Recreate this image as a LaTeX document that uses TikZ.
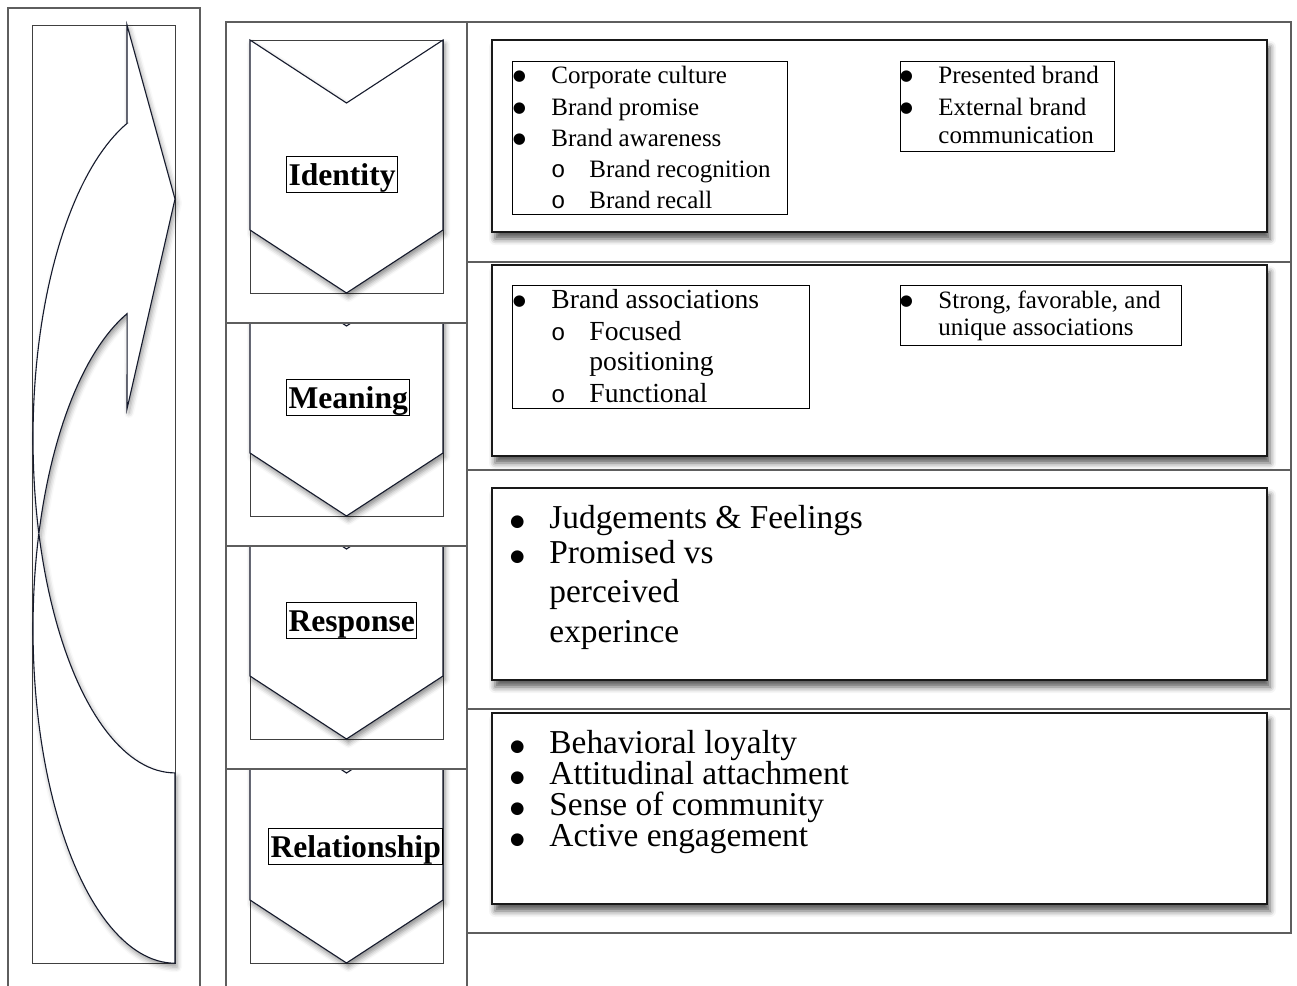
\documentclass[tikz,border=0pt]{standalone}
\usepackage{fontspec}
\setmainfont{Liberation Serif}
\setmonofont{Liberation Mono}
\newfontfamily\markfont{DejaVu Sans}
\usetikzlibrary{shadows.blur}

\definecolor{gridline}{HTML}{5E5E5E}
\definecolor{inkline}{HTML}{151A2C}

% text sizes (1 unit = 0.5pt)
\newcommand\smallitems{\fontsize{12.5}{15}\selectfont}
\newcommand\miditems{\fontsize{13.8}{16}\selectfont}
\newcommand\bigitems{\fontsize{16.7}{20}\selectfont}
\newcommand\tagface{\fontsize{15.8}{19}\selectfont\bfseries}

% list markers: a narrow centred marker box followed by the hanging indent
\newcommand\bulS{\makebox[4pt][c]{\raisebox{1.3pt}{\markfont\fontsize{7.5}{7.5}\selectfont ●}}\hspace{14pt}}
\newcommand\bulL{\makebox[4pt][c]{\raisebox{1pt}{\markfont\fontsize{8.3}{8.3}\selectfont ●}}\hspace{14pt}}
\newcommand\subS{\makebox[4pt][c]{\fontsize{12}{12}\selectfont\ttfamily o}\hspace{13.5pt}}

\begin{document}
\begin{tikzpicture}[x=0.5pt,y=-0.5pt,
  grid/.style={draw=gridline, line width=0.6pt},
  frame/.style={draw=black!75, line width=0.5pt},
  chev/.style={draw=inkline, line width=0.55pt, fill=white,
    blur shadow={shadow xshift=1pt, shadow yshift=-2pt, shadow blur radius=2.5pt, shadow opacity=45}},
  card/.style={draw=black!90, line width=0.8pt, fill=white,
    blur shadow={shadow xshift=1.5pt, shadow yshift=-3.5pt, shadow blur radius=3pt, shadow opacity=65}},
  listbox/.style={draw=black, line width=0.5pt},
  tag/.style={draw=black, line width=0.5pt, fill=white, font=\tagface,
    inner xsep=1pt, inner ysep=0pt, text height=14.5pt, text depth=3.5pt, anchor=base west},
  item/.style={anchor=base west, inner sep=0pt}]

\useasboundingbox (0,0) rectangle (1297,986);
\clip (0,0) rectangle (1297,986);

% ---------- left column: curved arrow ----------
\draw[frame] (32,25) rectangle (175,963);
\draw[draw=inkline, line width=0.55pt, fill=white,
  blur shadow={shadow xshift=1pt, shadow yshift=-2pt, shadow blur radius=2.5pt, shadow opacity=40}]
  (175,199) -- (127,25) -- (127,123.3)
  -- plot[domain=250.3:90, samples=90, variable=\t] ({175+142*cos(\t)},{438.3+334.6*sin(\t)})
  -- (175,963)
  -- plot[domain=90:250.3, samples=90, variable=\t] ({175+142*cos(\t)},{628.6+334.6*sin(\t)})
  -- (127,409) -- cycle;

% ---------- middle column: chevrons ----------
\foreach \b/\ct/\cb in {293/22/323, 516/323/546, 739/546/769, 963/769/986} {
  \begin{scope}
    \clip (226,\ct) rectangle (467,\cb);
    \draw[frame] (250,\b-253) rectangle (443,\b);
    \draw[chev] (250,\b-253) -- (346.5,\b-190) -- (443,\b-253)
      -- (443,\b-63) -- (346.5,\b) -- (250,\b-63) -- cycle;
  \end{scope}
}
\node[tag] (identity) at (286,185) {Identity};
\node[tag] (meaning) at (286,408) {Meaning};
\node[tag] (response) at (286,631) {Response};
\node[tag] (relationship) at (268,857) {Relationship};

% ---------- right column: cards ----------
\draw[card] (492,40) rectangle (1267,232);
\draw[card] (492,265) rectangle (1267,456);
\draw[card] (492,488) rectangle (1267,680);
\draw[card] (492,713) rectangle (1267,904);

% identity lists
\draw[listbox] (512,61) rectangle (787,214);
\draw[listbox] (900,61) rectangle (1114,151);
\begin{scope}[font=\smallitems]
  \foreach \t/\y [count=\i] in {Corporate culture/83, Brand promise/115, Brand awareness/146}
    \node[item] (it\i) at (515,\y) {\bulS\t};
  \foreach \t/\y [count=\i] in {Brand recognition/177, Brand recall/208}
    \node[item] (ist\i) at (554,\y) {\subS\t};
  \node[item] (ibt1) at (902,83) {\bulS Presented brand};
  \node[item] (ibt2) at (902,115) {\bulS External brand};
  \node[item] (ibt3) at (938,143) {communication};
\end{scope}

% meaning lists
\draw[listbox] (512,285) rectangle (809,408);
\draw[listbox] (900,285) rectangle (1181,345);
\begin{scope}[font=\miditems]
  \node[item] (mt1) at (515,308) {\bulS Brand associations};
  \node[item] (mst1) at (554,340) {\subS Focused};
  \node[item] (mst2) at (589,370) {positioning};
  \node[item] (mst3) at (554,402) {\subS Functional};
\end{scope}
\begin{scope}[font=\smallitems]
  \node[item] (mbt1) at (902,308) {\bulS Strong, favorable, and};
  \node[item] (mbt2) at (938,335) {unique associations};
\end{scope}

% response list
\begin{scope}[font=\bigitems]
  \node[item] (rt1) at (513,528) {\bulL Judgements \& Feelings};
  \node[item] (rt2) at (513,563) {\bulL Promised vs};
  \node[item] (rt3) at (549,602) {perceived};
  \node[item] (rt4) at (549,642) {experince};
\end{scope}

% relationship list
\begin{scope}[font=\bigitems]
  \foreach \t/\y [count=\i] in {Behavioral loyalty/753, Attitudinal attachment/784, Sense of community/815, Active engagement/846}
    \node[item] (lt\i) at (513,\y) {\bulL\t};
\end{scope}

% ---------- table rules ----------
\draw[grid] (8,986) -- (8,8) -- (200,8) -- (200,986);
\draw[grid] (226,986) -- (226,22) -- (1291,22) -- (1291,933) -- (467,933);
\draw[grid] (467,22) -- (467,986);
\foreach \y in {323,546,769} \draw[grid] (226,\y) -- (467,\y);
\foreach \y in {262,470,709} \draw[grid] (467,\y) -- (1291,\y);
\end{tikzpicture}
\end{document}
